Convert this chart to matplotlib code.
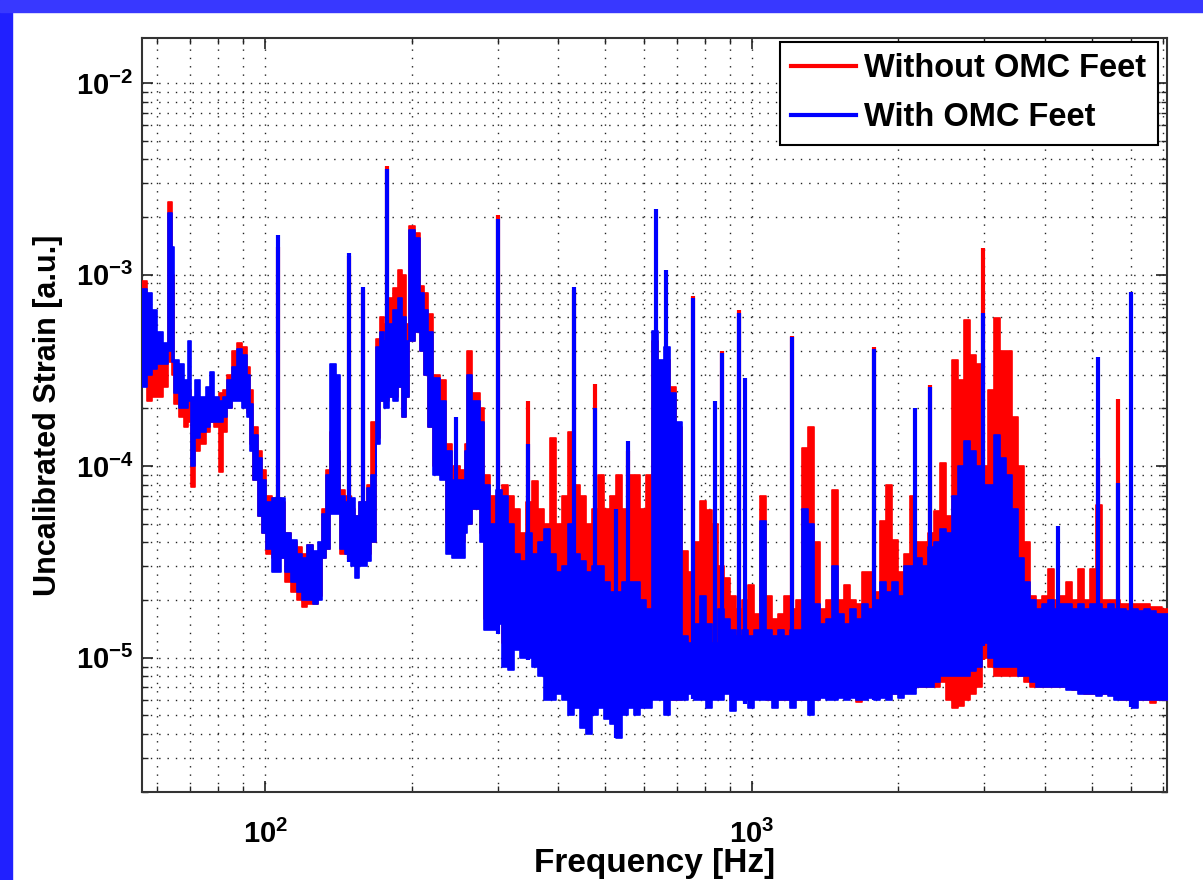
import matplotlib
matplotlib.use('Agg')
import matplotlib.pyplot as plt
import numpy as np
from matplotlib.patches import Rectangle
from matplotlib.lines import Line2D
from matplotlib.ticker import FixedLocator, FixedFormatter, LogLocator, NullFormatter

plt.rcParams['font.family'] = ['Liberation Sans', 'DejaVu Sans']
plt.rcParams['mathtext.fontset'] = 'custom'
plt.rcParams['mathtext.rm'] = 'Liberation Sans:bold'
plt.rcParams['mathtext.bf'] = 'Liberation Sans:bold'

# spectrum envelopes (Hz, strain), one column per frequency bin
freq = [55.6, 57.0, 58.5, 60.0, 61.5, 63.0, 64.3, 65.0, 66.5, 68.0,
        69.3, 70.3, 71.8, 73.5, 75.5, 77.0, 78.5, 80.3, 81.8, 83.5,
        85.5, 87.5, 89.5, 91.5, 93.0, 94.5, 96.5, 98.5, 100.5, 103,
        107.5, 110, 113, 116, 119, 122, 125, 128, 130.5, 133,
        135.5, 140, 142.5, 145.5, 150, 153, 156, 161.5, 165, 168.5,
        172, 175.5, 179.5, 183, 187, 191, 194.5, 197.5, 203.5, 208,
        212, 216, 221, 228, 235, 242, 251, 257, 260, 266,
        276, 282, 290, 298, 307, 316, 325, 334, 344, 354,
        364, 374, 385, 396, 407, 419, 431, 444, 456, 470,
        483, 497, 511, 526, 541, 557, 573, 590, 607, 624,
        642, 661, 680, 699, 719, 740, 761, 783, 806, 829,
        853, 877, 903, 929, 955, 982, 1010, 1040, 1070, 1100,
        1132, 1165, 1198, 1233, 1268, 1305, 1342, 1381, 1420, 1462,
        1504, 1547, 1592, 1637, 1685, 1733, 1783, 1835, 1888, 1942,
        1998, 2055, 2115, 2175, 2238, 2303, 2369, 2437, 2507, 2579,
        2654, 2730, 2809, 2890, 2973, 3059, 3147, 3236, 3330, 3425,
        3524, 3626, 3730, 3837, 3948, 4062, 4178, 4299, 4423, 4550,
        4681, 4816, 4954, 5097, 5244, 5395, 5551, 5710, 5874, 6044,
        6218, 6396, 6581, 6770, 6965, 7166]

blue_lo = [2.6e-4, 3.0e-4, 3.2e-4, 3.4e-4, 3.4e-4, 4.0e-4, 3.5e-4, 2.4e-4, 2.0e-4, 2.0e-4,
           2.2e-4, 1.0e-4, 1.4e-4, 1.5e-4, 1.6e-4, 1.7e-4, 1.7e-4, 1.7e-4, 1.8e-4, 2.0e-4,
           2.2e-4, 2.2e-4, 2.0e-4, 1.8e-4, 1.2e-4, 8.5e-5, 5.5e-5, 4.5e-5, 3.7e-5, 2.8e-5,
           3.3e-5, 2.8e-5, 2.5e-5, 2.2e-5, 2.0e-5, 2.0e-5, 1.9e-5, 2.0e-5, 3.3e-5, 3.7e-5,
           5.6e-5, 5.6e-5, 3.7e-5, 3.5e-5, 3.0e-5, 2.6e-5, 3.0e-5, 3.2e-5, 4.0e-5, 1.3e-4,
           2.2e-4, 2.0e-4, 2.3e-4, 2.2e-4, 2.6e-4, 1.8e-4, 2.3e-4, 4.5e-4, 5.0e-4, 4.0e-4,
           3.0e-4, 1.6e-4, 9.0e-5, 8.5e-5, 3.5e-5, 3.3e-5, 3.3e-5, 4.5e-5, 5.0e-5, 6.0e-5,
           4.0e-5, 1.4e-5, 1.4e-5, 1.5e-5, 9.0e-6, 8.6e-6, 1.1e-5, 1.0e-5, 1.0e-5, 9.0e-6,
           8.0e-6, 6.0e-6, 6.0e-6, 6.5e-6, 6.0e-6, 5.0e-6, 5.5e-6, 4.3e-6, 4.0e-6, 5.0e-6,
           5.5e-6, 4.8e-6, 4.5e-6, 3.8e-6, 5.0e-6, 5.5e-6, 5.0e-6, 5.5e-6, 5.5e-6, 6.0e-6,
           6.0e-6, 5.0e-6, 6.0e-6, 6.0e-6, 6.0e-6, 6.5e-6, 6.0e-6, 6.0e-6, 5.5e-6, 6.0e-6,
           6.0e-6, 6.5e-6, 5.3e-6, 6.0e-6, 6.0e-6, 5.5e-6, 6.0e-6, 6.0e-6, 6.0e-6, 5.5e-6,
           6.0e-6, 6.0e-6, 5.5e-6, 6.0e-6, 6.0e-6, 5.0e-6, 6.0e-6, 6.2e-6, 6.0e-6, 6.0e-6,
           6.2e-6, 6.0e-6, 6.2e-6, 6.0e-6, 6.0e-6, 6.2e-6, 6.0e-6, 6.2e-6, 6.0e-6, 6.5e-6,
           6.2e-6, 6.5e-6, 6.5e-6, 7.0e-6, 7.0e-6, 7.0e-6, 7.5e-6, 8.0e-6, 8.0e-6, 8.0e-6,
           8.0e-6, 8.0e-6, 8.5e-6, 9.0e-6, 1.2e-5, 1.0e-5, 9.0e-6, 9.0e-6, 9.0e-6, 9.0e-6,
           8.0e-6, 8.0e-6, 7.5e-6, 7.0e-6, 7.0e-6, 7.0e-6, 7.0e-6, 7.0e-6, 6.8e-6, 6.8e-6,
           6.5e-6, 6.5e-6, 6.5e-6, 6.3e-6, 6.5e-6, 6.3e-6, 6.0e-6, 6.0e-6, 6.0e-6, 5.5e-6,
           6.0e-6, 6.0e-6, 6.0e-6, 6.0e-6, 6.0e-6, 6.0e-6]

blue_hi = [8.4e-4, 8.0e-4, 6.5e-4, 5.0e-4, 4.4e-4, 2.1e-3, 1.4e-3, 3.6e-4, 3.4e-4, 2.8e-4,
           4.5e-4, 2.3e-4, 2.8e-4, 2.3e-4, 2.6e-4, 3.1e-4, 2.3e-4, 2.2e-4, 2.3e-4, 2.8e-4,
           3.3e-4, 4.1e-4, 3.8e-4, 3.0e-4, 2.1e-4, 1.45e-4, 1.1e-4, 8.5e-5, 6.5e-5, 6.8e-5,
           6.8e-5, 4.5e-5, 4.1e-5, 3.5e-5, 3.3e-5, 3.9e-5, 3.6e-5, 4.0e-5, 5.6e-5, 9.0e-5,
           3.4e-4, 3.0e-4, 7.0e-5, 6.5e-5, 6.8e-5, 5.5e-5, 6.5e-5, 7.7e-5, 9.0e-5, 4.2e-4,
           5.0e-4, 4.5e-4, 5.5e-4, 6.5e-4, 7.5e-4, 6.0e-4, 4.5e-4, 1.7e-3, 1.55e-3, 8.0e-4,
           6.5e-4, 5.0e-4, 2.9e-4, 2.2e-4, 1.2e-4, 8.5e-5, 8.5e-5, 1.2e-4, 3.0e-4, 2.2e-4,
           1.7e-4, 8.0e-5, 5.0e-5, 7.5e-5, 7.0e-5, 5.0e-5, 3.5e-5, 3.2e-5, 4.5e-5, 3.5e-5,
           4.0e-5, 4.7e-5, 3.5e-5, 2.8e-5, 3.0e-5, 5.0e-5, 3.5e-5, 3.2e-5, 2.8e-5, 3.0e-5,
           3.0e-5, 2.5e-5, 2.2e-5, 2.2e-5, 2.5e-5, 2.5e-5, 2.5e-5, 2.0e-5, 1.8e-5, 5.1e-4,
           3.6e-4, 4.2e-4, 2.4e-4, 1.7e-4, 1.3e-5, 1.2e-5, 1.5e-5, 2.1e-5, 1.5e-5, 1.2e-5,
           1.8e-5, 1.6e-5, 1.4e-5, 1.3e-5, 1.4e-5, 1.3e-5, 1.4e-5, 5.2e-5, 1.4e-5, 1.3e-5,
           1.4e-5, 1.3e-5, 1.4e-5, 1.4e-5, 6.0e-5, 5.0e-5, 1.9e-5, 1.5e-5, 1.6e-5, 3.0e-5,
           1.7e-5, 1.5e-5, 1.8e-5, 1.6e-5, 1.9e-5, 1.8e-5, 2.0e-5, 2.5e-5, 2.2e-5, 2.5e-5,
           2.1e-5, 3.0e-5, 3.0e-5, 3.3e-5, 3.0e-5, 3.8e-5, 4.0e-5, 4.7e-5, 4.5e-5, 7.0e-5,
           1.0e-4, 1.35e-4, 1.2e-4, 1.0e-4, 8.0e-5, 8.0e-5, 1.45e-4, 1.1e-4, 9.0e-5, 6.0e-5,
           3.3e-5, 2.5e-5, 2.0e-5, 1.8e-5, 1.9e-5, 2.0e-5, 1.8e-5, 1.9e-5, 1.9e-5, 1.8e-5,
           1.9e-5, 1.8e-5, 1.9e-5, 1.9e-5, 1.8e-5, 1.9e-5, 1.8e-5, 1.8e-5, 1.75e-5, 1.8e-5,
           1.75e-5, 1.8e-5, 1.75e-5, 1.7e-5, 1.7e-5, 1.7e-5]

red_lo = [2.8e-4, 2.2e-4, 2.3e-4, 2.3e-4, 2.6e-4, 3.5e-4, 3.0e-4, 2.1e-4, 1.8e-4, 1.6e-4,
          1.7e-4, 7.8e-5, 1.2e-4, 1.3e-4, 1.5e-4, 1.7e-4, 1.6e-4, 9.3e-5, 1.5e-4, 2.0e-4,
          2.3e-4, 2.4e-4, 2.2e-4, 1.9e-4, 1.3e-4, 8.5e-5, 5.5e-5, 4.5e-5, 3.5e-5, 3.3e-5,
          3.3e-5, 2.5e-5, 2.2e-5, 2.0e-5, 1.85e-5, 1.9e-5, 1.9e-5, 2.1e-5, 3.3e-5, 3.7e-5,
          8.0e-5, 8.0e-5, 3.5e-5, 3.5e-5, 3.2e-5, 3.0e-5, 3.4e-5, 3.5e-5, 4.0e-5, 1.4e-4,
          2.2e-4, 2.2e-4, 2.3e-4, 2.3e-4, 2.6e-4, 1.8e-4, 2.3e-4, 4.5e-4, 5.0e-4, 4.0e-4,
          3.0e-4, 1.6e-4, 1.0e-4, 9.0e-5, 4.0e-5, 4.0e-5, 4.0e-5, 5.0e-5, 5.0e-5, 6.0e-5,
          4.5e-5, 1.6e-5, 1.6e-5, 1.8e-5, 1.2e-5, 1.2e-5, 1.2e-5, 1.2e-5, 1.2e-5, 1.1e-5,
          1.0e-5, 8.0e-6, 8.0e-6, 8.0e-6, 8.0e-6, 8.0e-6, 7.0e-6, 6.0e-6, 6.0e-6, 6.0e-6,
          6.0e-6, 6.0e-6, 6.0e-6, 6.0e-6, 6.0e-6, 6.0e-6, 6.0e-6, 6.0e-6, 6.0e-6, 7.0e-6,
          7.0e-6, 6.0e-6, 6.0e-6, 6.0e-6, 7.0e-6, 7.0e-6, 7.0e-6, 6.5e-6, 6.0e-6, 6.5e-6,
          6.5e-6, 7.0e-6, 6.0e-6, 6.5e-6, 6.5e-6, 6.0e-6, 6.5e-6, 6.5e-6, 6.0e-6, 6.0e-6,
          6.0e-6, 6.0e-6, 6.0e-6, 6.0e-6, 6.0e-6, 6.0e-6, 6.0e-6, 6.5e-6, 6.5e-6, 6.5e-6,
          6.5e-6, 6.5e-6, 6.5e-6, 5.9e-6, 6.5e-6, 6.5e-6, 6.5e-6, 6.5e-6, 6.5e-6, 6.5e-6,
          6.5e-6, 7.0e-6, 7.0e-6, 7.0e-6, 7.0e-6, 7.0e-6, 7.0e-6, 7.5e-6, 6.0e-6, 5.5e-6,
          5.6e-6, 6.0e-6, 6.5e-6, 7.0e-6, 1.0e-5, 9.0e-6, 8.0e-6, 8.0e-6, 8.0e-6, 8.0e-6,
          8.0e-6, 7.5e-6, 7.0e-6, 7.0e-6, 7.0e-6, 7.0e-6, 7.0e-6, 7.0e-6, 7.0e-6, 6.8e-6,
          6.8e-6, 6.5e-6, 6.5e-6, 6.5e-6, 6.5e-6, 6.5e-6, 6.3e-6, 6.0e-6, 6.0e-6, 6.0e-6,
          6.0e-6, 6.0e-6, 5.8e-6, 6.0e-6, 6.0e-6, 6.0e-6]

red_hi = [9.3e-4, 6.0e-4, 4.5e-4, 4.0e-4, 3.6e-4, 2.4e-3, 1.0e-3, 3.4e-4, 2.6e-4, 2.2e-4,
          2.5e-4, 1.8e-4, 2.0e-4, 1.8e-4, 2.0e-4, 2.2e-4, 2.2e-4, 2.4e-4, 2.5e-4, 3.0e-4,
          4.0e-4, 4.4e-4, 4.2e-4, 3.3e-4, 2.5e-4, 1.6e-4, 1.2e-4, 9.5e-5, 7.0e-5, 6.8e-5,
          6.5e-5, 4.5e-5, 4.0e-5, 3.8e-5, 3.5e-5, 3.9e-5, 3.4e-5, 3.5e-5, 6.0e-5, 9.5e-5,
          1.5e-4, 1.2e-4, 7.5e-5, 7.0e-5, 6.0e-5, 5.5e-5, 6.5e-5, 8.0e-5, 1.7e-4, 4.6e-4,
          6.0e-4, 5.5e-4, 7.5e-4, 8.5e-4, 1.05e-3, 1.0e-3, 5.5e-4, 1.8e-3, 1.65e-3, 8.7e-4,
          8.0e-4, 6.2e-4, 3.0e-4, 2.8e-4, 1.3e-4, 1.0e-4, 9.5e-5, 1.3e-4, 4.0e-4, 2.4e-4,
          2.0e-4, 9.0e-5, 7.0e-5, 7.0e-5, 8.0e-5, 7.0e-5, 6.0e-5, 4.5e-5, 6.5e-5, 8.4e-5,
          6.0e-5, 5.0e-5, 1.4e-4, 5.0e-5, 7.0e-5, 1.5e-4, 8.0e-5, 7.0e-5, 5.0e-5, 6.0e-5,
          9.0e-5, 6.0e-5, 7.0e-5, 9.0e-5, 6.0e-5, 9.0e-5, 9.0e-5, 6.0e-5, 9.0e-5, 4.5e-4,
          3.4e-4, 3.6e-4, 2.6e-4, 1.6e-4, 3.6e-5, 2.8e-5, 4.0e-5, 6.6e-5, 5.9e-5, 5.0e-5,
          3.0e-5, 2.6e-5, 2.1e-5, 1.8e-5, 2.0e-5, 2.4e-5, 1.7e-5, 7.0e-5, 2.1e-5, 1.6e-5,
          1.7e-5, 2.1e-5, 1.8e-5, 2.0e-5, 1.24e-4, 1.6e-4, 4.0e-5, 1.8e-5, 2.0e-5, 7.5e-5,
          2.0e-5, 2.4e-5, 2.0e-5, 1.9e-5, 2.8e-5, 2.8e-5, 2.2e-5, 5.2e-5, 8.0e-5, 4.1e-5,
          2.8e-5, 3.5e-5, 7.0e-5, 4.0e-5, 4.0e-5, 4.5e-5, 5.8e-5, 1.04e-4, 5.5e-5, 3.6e-4,
          2.8e-4, 5.8e-4, 3.8e-4, 3.4e-4, 1.0e-4, 2.5e-4, 5.9e-4, 4.0e-4, 4.0e-4, 1.8e-4,
          1.0e-4, 4.0e-5, 2.1e-5, 2.0e-5, 2.1e-5, 2.9e-5, 2.0e-5, 2.1e-5, 2.5e-5, 2.0e-5,
          2.9e-5, 2.0e-5, 2.9e-5, 6.3e-5, 2.0e-5, 2.0e-5, 2.0e-5, 1.9e-5, 1.9e-5, 1.9e-5,
          1.9e-5, 1.9e-5, 1.85e-5, 1.85e-5, 1.8e-5, 1.8e-5]

# narrow lines standing above the noise
blue_spike_f = [106, 148.5, 159, 178, 247, 300, 347, 430, 475, 526, 555, 636, 666, 758,
                840, 870, 940, 970, 1210, 1780, 2160, 2320, 2990, 4260, 5150, 5650, 6020]
blue_spike = [1.6e-3, 1.3e-3, 8.6e-4, 3.55e-3, 1.8e-4, 1.95e-3, 1.3e-4, 8.6e-4, 2.0e-4, 6.0e-5,
              1.35e-4, 2.2e-3, 1.06e-3, 7.5e-4, 2.2e-4, 3.9e-4, 6.3e-4, 2.9e-4, 4.7e-4, 4.1e-4,
              2.0e-4, 2.6e-4, 6.3e-4, 4.9e-5, 3.7e-4, 8.2e-5, 8.1e-4]
red_spike_f = [106, 148.5, 159, 178, 300, 347, 430, 475, 555, 758, 870, 940, 1210, 1780,
               2320, 2990, 5150, 5650]
red_spike = [1.4e-3, 1.25e-3, 8.3e-4, 3.7e-3, 2.05e-3, 2.2e-4, 8.3e-4, 2.7e-4, 1.2e-4, 7.7e-4,
             4.0e-4, 6.5e-4, 4.8e-4, 4.2e-4, 2.65e-4, 1.37e-3, 1.1e-4, 2.25e-4]

fig = plt.figure(figsize=(12.03, 8.8), dpi=100)
fig.patches.append(Rectangle((0, 0), 12 / 1203, 1, transform=fig.transFigure,
                             color='#2020ff', zorder=-1))
fig.patches.append(Rectangle((0, 1 - 12 / 880), 1, 12 / 880, transform=fig.transFigure,
                             color='#3838ff', zorder=-1))

ax = fig.add_axes([141.7 / 1203, 1 - 791.7 / 880, 1025 / 1203, 753.4 / 880])
ax.set_xscale('log')
ax.set_yscale('log')


def draw(lo, hi, sf, sv, color):
    ax.fill_between(freq, lo, hi, step='post', color=color, lw=1.2, zorder=3)
    base = 10 ** np.interp(np.log10(sf), np.log10(freq), np.log10(lo))
    ax.vlines(sf, base, sv, color=color, lw=3, zorder=3)


draw(red_lo, red_hi, red_spike_f, red_spike, 'red')
draw(blue_lo, blue_hi, blue_spike_f, blue_spike, 'blue')

ax.set_xlim(55.7, 7120)
ax.set_ylim(2.0e-6, 1.71e-2)

ax.xaxis.set_major_locator(FixedLocator([100, 1000]))
ax.xaxis.set_major_formatter(FixedFormatter([r'$\mathbf{10^{2}}$', r'$\mathbf{10^{3}}$']))
ax.xaxis.set_minor_locator(LogLocator(base=10, subs=np.arange(2, 10)))
ax.xaxis.set_minor_formatter(NullFormatter())
ax.yaxis.set_major_locator(FixedLocator([1e-5, 1e-4, 1e-3, 1e-2]))
ax.yaxis.set_major_formatter(FixedFormatter([r'$\mathbf{10^{-5}}$', r'$\mathbf{10^{-4}}$',
                                             r'$\mathbf{10^{-3}}$', r'$\mathbf{10^{-2}}$']))
ax.yaxis.set_minor_locator(LogLocator(base=10, subs=np.arange(2, 10)))
ax.yaxis.set_minor_formatter(NullFormatter())

ax.tick_params(which='both', direction='in', top=True, right=True, colors='#222222',
               labelcolor='black', labelsize=21)
ax.tick_params(which='major', length=8, width=1.2)
ax.tick_params(which='minor', length=4, width=1)
ax.tick_params(axis='x', pad=20)
ax.tick_params(axis='y', pad=6)
ax.grid(True, which='both', color='#222222', lw=1.0, ls=(0, (1, 5)))
ax.set_axisbelow(True)
for s in ax.spines.values():
    s.set_linewidth(1.5)
    s.set_color('#333333')

ax.set_xlabel('Frequency [Hz]', fontsize=24, fontweight='bold')
ax.set_ylabel('Uncalibrated Strain [a.u.]', fontsize=22, fontweight='bold')
ax.xaxis.set_label_coords(0.5, -0.075)
ax.yaxis.set_label_coords(-0.077, 0.5)

handles = [Line2D([], [], color='red', lw=3), Line2D([], [], color='blue', lw=3)]
leg = ax.legend(handles, ['Without OMC Feet', 'With OMC Feet'], loc='upper right',
                bbox_to_anchor=(1158 / 1203, 1 - 42 / 880), bbox_transform=fig.transFigure,
                fancybox=False, framealpha=1, edgecolor='black', borderaxespad=0,
                prop={'weight': 'bold', 'size': 23.5}, handlelength=2.0, handletextpad=0.25,
                labelspacing=0.55, borderpad=0.35)
leg.get_frame().set_linewidth(1.5)
leg.set_zorder(5)

fig.savefig('out.png', dpi=100)
